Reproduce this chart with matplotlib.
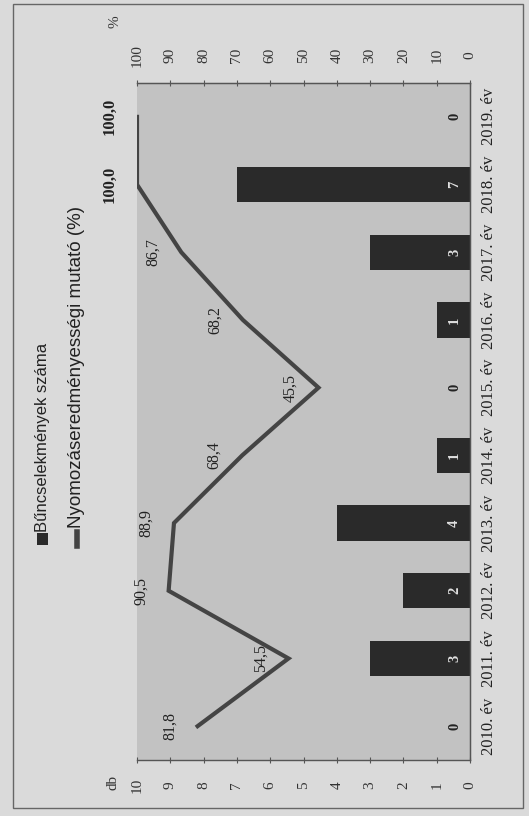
import matplotlib
matplotlib.use("Agg")
import matplotlib.pyplot as plt
from matplotlib.patches import Rectangle
from matplotlib.lines import Line2D

years = ["2010. év", "2011. év", "2012. év", "2013. év", "2014. év",
         "2015. év", "2016. év", "2017. év", "2018. év", "2019. év"]
crimes = [0, 3, 2, 4, 1, 0, 1, 3, 7, 0]
rate = [81.8, 54.5, 90.5, 88.9, 68.4, 45.5, 68.2, 86.7, 100.0, 100.0]
db_ticks = list(range(0, 11))
pct_ticks = list(range(0, 101, 10))
legend_labels = ["Bűncselekmények száma", "Nyomozáseredményességi mutató (%)"]

serif = "Liberation Serif"
sans = "Liberation Sans"
bar_color = "#2a2a2a"
line_color = "#444444"

W, H = 529, 816
fig = plt.figure(figsize=(W / 100, H / 100), dpi=100, facecolor="#dadada")

def fx(px):
    return px / W

def fy(py):
    return 1 - py / H

left, right, top, bottom = 137, 470, 83, 760
ax = fig.add_axes([fx(left), fy(bottom), fx(right) - fx(left), fy(top) - fy(bottom)])
ax.set_facecolor("#c2c2c2")

pos = list(range(len(years)))
ax.barh(pos, crimes, height=0.52, color=bar_color, zorder=2)
ax.set_xlim(10, 0)
ax.set_ylim(-0.5, len(years) - 0.5)

# category axis on the right
ax.yaxis.tick_right()
ax.set_yticks(pos)
ax.set_yticklabels(years, rotation=90, va="center", ha="left",
                   fontfamily=serif, fontsize=12, color="#222222")
ax.tick_params(axis="y", length=0, pad=8)

# db axis at the bottom
ax.set_xticks(db_ticks)
ax.set_xticklabels([str(t) for t in db_ticks], rotation=90, va="center",
                   fontfamily=serif, fontsize=11, color="#333333")
ax.tick_params(axis="x", length=4, direction="inout", pad=16, color="#555555")

ax.spines["left"].set_visible(False)
for s in ["bottom", "top", "right"]:
    ax.spines[s].set_color("#555555")
    ax.spines[s].set_linewidth(1.0)

# bar value labels at the base
for i, v in zip(pos, crimes):
    ax.annotate(str(v), (0, i), xytext=(-11, 0), textcoords="offset points",
                rotation=90, ha="center", va="center", fontfamily=serif,
                fontsize=10.5, fontweight="bold",
                color="#e0e0e0" if v > 0 else "#222222", zorder=3)

# percent axis at the top
ax2 = ax.twiny()
ax2.set_xlim(100, 0)
ax2.set_xticks(pct_ticks)
ax2.set_xticklabels([str(t) for t in pct_ticks], rotation=90, va="center",
                    fontfamily=serif, fontsize=11, color="#333333")
ax2.tick_params(axis="x", length=4, direction="inout", pad=18, color="#555555")
for s in ["left", "bottom"]:
    ax2.spines[s].set_visible(False)
for s in ["top", "right"]:
    ax2.spines[s].set_color("#555555")
ax2.plot(rate, pos, color=line_color, lw=3.0, solid_joinstyle="miter", zorder=4)
for i, v in zip(pos, rate):
    ax2.annotate(f"{v:.1f}".replace(".", ","), (v, i), xytext=(-20, 0),
                 textcoords="offset points", rotation=90, ha="center",
                 va="center", fontfamily=serif,
                 fontsize=12 if v >= 100 else 11.5,
                 fontweight="bold" if v >= 100 else "normal", color="#222222")

# axis unit labels
fig.text(fx(113), fy(782), "db", rotation=90, ha="center", va="center",
         fontfamily=serif, fontsize=11, color="#333333")
fig.text(fx(115), fy(22), "%", rotation=90, ha="center", va="center",
         fontfamily=serif, fontsize=11, color="#333333")

# legend (drawn rotated)
fig.add_artist(Rectangle((fx(37), fy(545)), fx(11), 12 / H, transform=fig.transFigure,
                         facecolor=bar_color, edgecolor="none"))
fig.text(fx(43), fy(532), legend_labels[0], rotation=90, ha="center", va="bottom",
         fontfamily=sans, fontsize=12, color="#222222")
fig.add_artist(Line2D([fx(77), fx(77)], [fy(546), fy(532)], transform=fig.transFigure,
                      color=line_color, lw=4))
fig.text(fx(77), fy(528), legend_labels[1], rotation=90, ha="center", va="bottom",
         fontfamily=sans, fontsize=13.5, color="#222222")

# outer frame
fig.add_artist(Rectangle((fx(13), fy(808)), fx(510), 804 / H, transform=fig.transFigure,
                         facecolor="none", edgecolor="#666666", lw=1.0))

fig.savefig("out.png", dpi=100, facecolor=fig.get_facecolor())
